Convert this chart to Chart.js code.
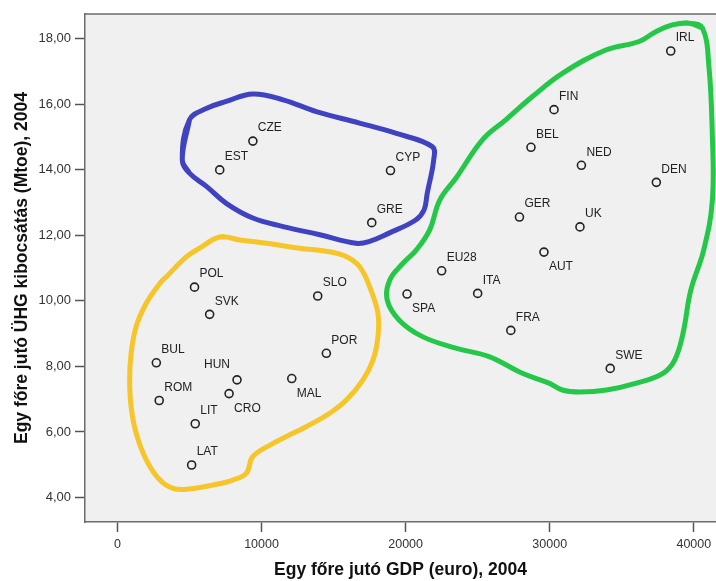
<!DOCTYPE html>
<html>
<head>
<meta charset="utf-8">
<script src="https://cdn.jsdelivr.net/npm/chart.js@4/dist/chart.umd.min.js"></script>
<style>
  html, body { margin: 0; padding: 0; background: #fff; }
  #wrap { width: 716px; height: 581px; }
</style>
</head>
<body>
<div id="wrap"><canvas id="chart" width="716" height="581"></canvas></div>
<script>
// country codes and values (GDP per capita, GHG per capita)
var codes = ["CZE","EST","CYP","GRE","IRL","FIN","BEL","NED","DEN","GER","UK","AUT","EU28","ITA","SPA","FRA","SWE",
             "POL","SLO","SVK","POR","BUL","HUN","MAL","CRO","ROM","LIT","LAT"];
var gdp = [9400, 7100, 18950, 17650, 38400, 30300, 28700, 32200, 37400, 27900, 32100, 29600, 22500, 25000, 20100, 27300, 34200,
           5350, 13900, 6400, 14500, 2700, 8300, 12100, 7750, 2900, 5400, 5150];
var ghg = [14.88, 14.00, 13.98, 12.39, 17.63, 15.84, 14.69, 14.14, 13.62, 12.56, 12.26, 11.49, 10.92, 10.23, 10.21, 9.10, 7.94,
           10.42, 10.15, 9.59, 8.40, 8.11, 7.59, 7.63, 7.17, 6.96, 6.25, 4.99];

// hand-drawn group outlines (in data units)
var blueX = [4500, 5000, 6200, 7550, 9400, 11500, 13800, 16800, 19300, 21850, 21950, 21500, 21280, 20700, 18850, 17450, 16550, 14050, 11500, 9400, 7550, 6200, 5000];
var blueY = [14.31, 15.53, 15.88, 16.09, 16.32, 16.14, 15.78, 15.43, 15.12, 14.71, 14.31, 13.29, 12.78, 12.47, 12.07, 11.81, 11.76, 12.02, 12.27, 12.53, 12.98, 13.49, 13.90];

var yellowX = [7100, 8500, 10350, 12650, 14700, 15900, 16800, 17500, 18080, 18080, 17740, 17040, 15900, 14730, 13100, 11730, 10800, 9400, 8950, 8000, 6650, 4800, 3850, 2950, 2000, 1300, 950, 850, 950, 1300, 2000, 2950, 3400, 4800, 5700];
var yellowY = [11.95, 11.86, 11.76, 11.61, 11.50, 11.35, 11.05, 10.44, 9.62, 8.91, 8.20, 7.59, 6.98, 6.57, 6.16, 5.86, 5.65, 5.25, 4.74, 4.53, 4.38, 4.25, 4.28, 4.53, 5.15, 5.96, 6.77, 7.59, 8.40, 9.22, 9.93, 10.54, 10.74, 11.35, 11.61];

var greenX = [39670, 40600, 41050, 41280, 41290, 40690, 39790, 39250, 38680, 37860, 36020, 33940, 32080, 30880, 29950, 28100, 25790, 23480, 21170, 19540, 18720, 18900, 19820, 20750, 21670, 22370, 23510, 25330, 26950, 28800, 30880, 33890, 36200, 37360, 38520];
var greenY = [18.48, 18.33, 17.15, 15.13, 13.08, 11.56, 10.33, 9.01, 8.20, 7.79, 7.49, 7.28, 7.22, 7.28, 7.49, 7.79, 8.30, 8.56, 8.91, 9.42, 10.03, 10.64, 11.15, 11.56, 12.17, 13.08, 13.76, 14.92, 15.53, 16.24, 16.95, 17.66, 17.92, 18.22, 18.43];

var xTicks = [0, 10000, 20000, 30000, 40000];
var yTicks = [4, 6, 8, 10, 12, 14, 16, 18];

// labels that are not placed up-right of their marker
var labelBelow = ["SPA", "AUT", "MAL", "CRO"];
var labelLeft = ["HUN"];

function toPoints(xs, ys) {
  return xs.map(function (x, i) { return { x: x, y: ys[i] }; });
}

// closed loop: wrap a point on each end so the spline has neighbours everywhere
function loopPoints(xs, ys) {
  var pts = toPoints(xs, ys);
  var n = pts.length;
  return [pts[n - 1]].concat(pts, [pts[0], pts[1]]);
}

function outline(xs, ys, color) {
  return {
    type: "line",
    data: loopPoints(xs, ys),
    showLine: true,
    borderColor: color,
    borderWidth: 5,
    borderJoinStyle: "round",
    borderCapStyle: "round",
    tension: 0.4,
    pointRadius: 0,
    fill: false,
    order: 2
  };
}

var fontFam = "'Liberation Sans', Arial, sans-serif";

var plotBg = {
  id: "plotBg",
  beforeDraw: function (chart) {
    var a = chart.chartArea, ctx = chart.ctx;
    ctx.save();
    ctx.fillStyle = "#f0f0f0";
    ctx.fillRect(a.left, a.top, a.right - a.left, a.bottom - a.top);
    ctx.restore();
  },
  afterDraw: function (chart) {
    var a = chart.chartArea, ctx = chart.ctx;
    ctx.save();
    ctx.strokeStyle = "#6b6b6b";
    ctx.lineWidth = 1.5;
    ctx.beginPath();
    ctx.moveTo(a.left, a.top);
    ctx.lineTo(a.right, a.top);
    ctx.stroke();
    ctx.restore();
  }
};

var pointLabels = {
  id: "pointLabels",
  afterDatasetsDraw: function (chart) {
    var ctx = chart.ctx;
    var meta = chart.getDatasetMeta(0);
    ctx.save();
    ctx.font = "12px " + fontFam;
    ctx.fillStyle = "#222";
    ctx.textBaseline = "middle";
    meta.data.forEach(function (el, i) {
      var c = codes[i];
      if (labelBelow.includes(c)) {
        ctx.textAlign = "left";
        ctx.fillText(c, el.x + 5, el.y + 15);
      } else if (labelLeft.includes(c)) {
        ctx.textAlign = "right";
        ctx.fillText(c, el.x - 7, el.y - 15);
      } else {
        ctx.textAlign = "left";
        ctx.fillText(c, el.x + 5, el.y - 13);
      }
    });
    ctx.restore();
  }
};

new Chart(document.getElementById("chart"), {
  type: "scatter",
  data: {
    datasets: [
      {
        data: toPoints(gdp, ghg),
        pointRadius: 4,
        pointBorderWidth: 1.6,
        borderColor: "#222",
        backgroundColor: "rgba(0,0,0,0)",
        order: 1
      },
      outline(blueX, blueY, "#3f43c0"),
      outline(yellowX, yellowY, "#f6c52a"),
      outline(greenX, greenY, "#25c748")
    ]
  },
  options: {
    responsive: false,
    animation: false,
    layout: { autoPadding: false, padding: { top: 14, right: 0, left: 0, bottom: 0 } },
    plugins: {
      legend: { display: false },
      tooltip: { enabled: false }
    },
    scales: {
      x: {
        type: "linear",
        min: -2250,
        max: 41540,
        afterFit: function (s) { s.height = 59; s.paddingRight = 0; s.paddingLeft = 0; },
        afterBuildTicks: function (s) { s.ticks = xTicks.map(function (v) { return { value: v }; }); },
        grid: { drawOnChartArea: false, drawTicks: true, tickLength: 10, tickWidth: 1.5, tickColor: "#555" },
        border: { display: true, color: "#6b6b6b", width: 1.5 },
        ticks: {
          color: "#333",
          padding: 5,
          maxRotation: 0,
          font: { family: fontFam, size: 12.5 },
          callback: function (v) { return String(v); }
        },
        title: {
          display: true,
          text: "Egy főre jutó GDP (euro), 2004",
          color: "#111",
          padding: { top: 0, bottom: 0 },
          font: { family: fontFam, size: 17.5, weight: "bold" }
        }
      },
      y: {
        type: "linear",
        min: 3.25,
        max: 18.76,
        afterFit: function (s) { s.width = 85; },
        afterBuildTicks: function (s) { s.ticks = yTicks.map(function (v) { return { value: v }; }); },
        grid: { drawOnChartArea: false, drawTicks: true, tickLength: 10, tickWidth: 1.5, tickColor: "#555" },
        border: { display: true, color: "#6b6b6b", width: 1.5 },
        ticks: {
          color: "#333",
          padding: 4,
          font: { family: fontFam, size: 13 },
          callback: function (v) { return v.toFixed(2).replace(".", ","); }
        },
        title: {
          display: true,
          text: "Egy főre jutó ÜHG kibocsátás (Mtoe), 2004",
          color: "#111",
          padding: { top: 12, bottom: 0 },
          font: { family: fontFam, size: 17.5, weight: "bold" }
        }
      }
    }
  },
  plugins: [plotBg, pointLabels]
});
</script>
</body>
</html>
